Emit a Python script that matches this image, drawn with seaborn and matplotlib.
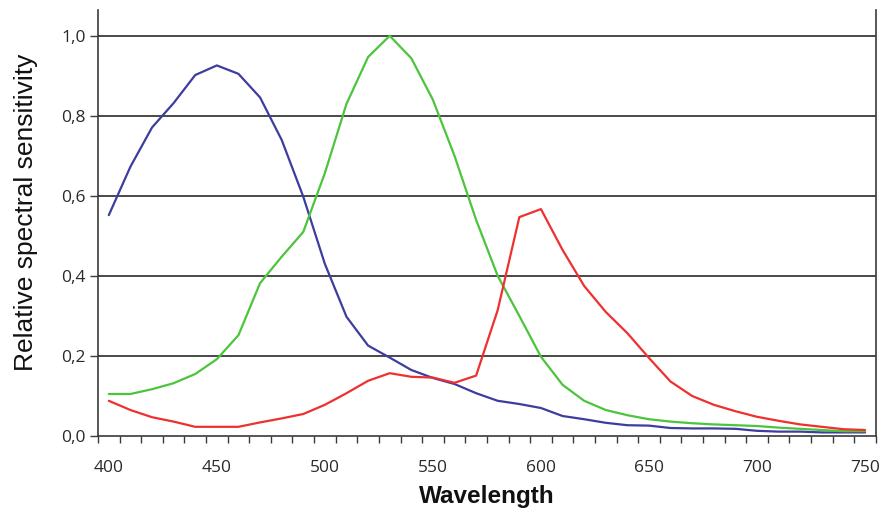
import matplotlib
matplotlib.use("Agg")
import matplotlib.pyplot as plt
import seaborn as sns
import pandas as pd
from matplotlib.ticker import FixedLocator, FuncFormatter

# Wavelength categories (nm), one point every 10 nm
wavelengths = list(range(400, 751, 10))

# Relative spectral sensitivity
blue = [0.552, 0.673, 0.771, 0.832, 0.902, 0.926, 0.905, 0.846, 0.740, 0.598,
        0.430, 0.298, 0.226, 0.196, 0.165, 0.145, 0.130, 0.107, 0.088, 0.080,
        0.070, 0.050, 0.042, 0.033, 0.027, 0.026, 0.020, 0.019, 0.019, 0.018,
        0.013, 0.011, 0.011, 0.009, 0.009, 0.009]
green = [0.105, 0.105, 0.117, 0.132, 0.155, 0.192, 0.252, 0.382, 0.448, 0.510,
         0.657, 0.830, 0.947, 1.000, 0.944, 0.840, 0.700, 0.540, 0.400, 0.300,
         0.198, 0.128, 0.088, 0.065, 0.052, 0.042, 0.036, 0.032, 0.029, 0.027,
         0.025, 0.021, 0.018, 0.015, 0.012, 0.012]
red = [0.088, 0.065, 0.047, 0.036, 0.023, 0.023, 0.023, 0.034, 0.044, 0.055,
       0.078, 0.107, 0.138, 0.157, 0.148, 0.146, 0.133, 0.151, 0.315, 0.547,
       0.567, 0.465, 0.375, 0.310, 0.257, 0.195, 0.136, 0.100, 0.078, 0.062,
       0.048, 0.038, 0.029, 0.023, 0.017, 0.015]

y_ticks = [0.0, 0.2, 0.4, 0.6, 0.8, 1.0]
x_labels_every = 5

colors = {"blue": "#3d3d9e", "green": "#4cc43c", "red": "#ee3030"}

# Long-form table; x is the category index (Excel-like category axis)
rows = []
for name, vals in [("blue", blue), ("green", green), ("red", red)]:
    for i, v in enumerate(vals):
        rows.append({"idx": i, "wl": wavelengths[i], "value": v, "cone": name})
df = pd.DataFrame(rows)

sns.set_theme(style="white")
plt.rcParams["font.family"] = ["Open Sans", "DejaVu Sans"]

fig = plt.figure(figsize=(8.91, 5.16), dpi=100)
ax = fig.add_axes([0.110, 0.155, 0.873, 0.826])

for y in y_ticks[1:]:
    ax.axhline(y, color="#3a3a3a", linewidth=1.3, zorder=1)

sns.lineplot(data=df, x="idx", y="value", hue="cone", palette=colors,
             hue_order=["blue", "green", "red"], linewidth=1.6,
             legend=False, ax=ax, zorder=3)

n = len(wavelengths)
ax.set_xlim(-0.5, n - 0.5)
ax.set_ylim(0, 1.065)

# category labels at centres, small tick marks at category boundaries
major = list(range(0, n, x_labels_every))
ax.xaxis.set_major_locator(FixedLocator(major))
ax.set_xticklabels([str(wavelengths[i]) for i in major])
ax.xaxis.set_minor_locator(FixedLocator([i - 0.5 for i in range(n + 1)]))
ax.tick_params(axis="x", which="major", length=0, pad=17, labelsize=12.5,
               labelcolor="#2a2a2a")
ax.tick_params(axis="x", which="minor", length=5, width=1, color="#3a3a3a",
               direction="out", bottom=True)

ax.yaxis.set_major_locator(FixedLocator(y_ticks))
ax.yaxis.set_major_formatter(FuncFormatter(lambda v, p: f"{v:.1f}".replace(".", ",")))
ax.tick_params(axis="y", length=6, width=1, color="#3a3a3a", direction="out",
               left=True, pad=3, labelsize=12.5, labelcolor="#2a2a2a")

for side in ["left", "right", "bottom"]:
    ax.spines[side].set_color("#3a3a3a")
    ax.spines[side].set_linewidth(1.2)
ax.spines["top"].set_visible(False)

ax.set_xlabel("Wavelength", fontsize=17.5, fontweight="bold",
              family="Liberation Sans", color="#111111", labelpad=7)
ax.set_ylabel("Relative spectral sensitivity", fontsize=19,
              family="Liberation Sans", color="#111111")
ax.yaxis.set_label_coords(-0.077, 0.526)

fig.savefig("out.png", dpi=100)
